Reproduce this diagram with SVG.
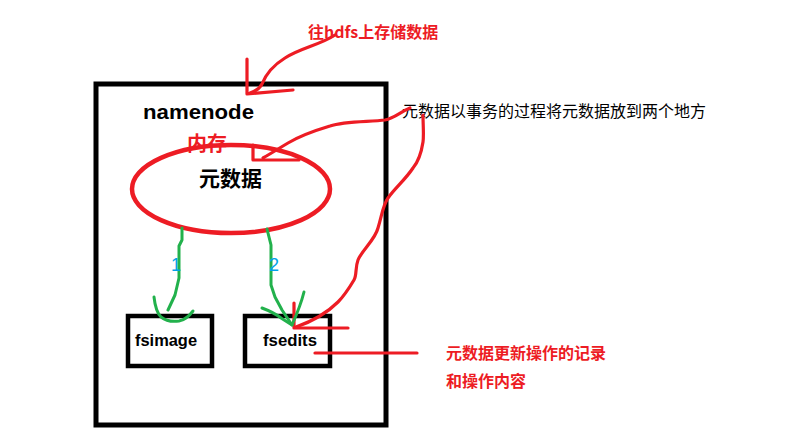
<svg xmlns="http://www.w3.org/2000/svg" width="802" height="446" viewBox="0 0 802 446">
<style>
.box{fill:none;stroke:#000;}
.red{fill:none;stroke:#ed1c24;stroke-width:3.2;stroke-linecap:round;stroke-linejoin:round;}
.green{fill:none;stroke:#22b14c;stroke-width:3;stroke-linecap:round;stroke-linejoin:round;}
.t{font-family:"Liberation Sans","Noto Sans CJK SC",sans-serif;font-weight:bold;}
.cjk{font-family:"Noto Sans CJK SC",sans-serif;}
.num{font-family:"Liberation Sans",sans-serif;font-size:18px;fill:#00a2e8;}
</style>
<rect width="802" height="446" fill="#fff"/>
<g id="namenode">
<rect class="box" x="96" y="84" width="290" height="341" stroke-width="5"/>
<text class="t" x="143" y="119" font-size="21" textLength="111" lengthAdjust="spacingAndGlyphs">namenode</text>
</g>
<g id="memory">
<text class="cjk" x="187" y="151" font-size="20" font-weight="bold" fill="#ed1c24">内存</text>
<ellipse cx="231" cy="189" rx="99" ry="44" fill="none" stroke="#ed1c24" stroke-width="4.5"/>
<text class="cjk" x="199" y="186" font-size="21" font-weight="bold" fill="#000">元数据</text>
</g>
<g id="fsimage">
<rect class="box" x="128" y="316" width="84" height="50" stroke-width="4.5"/>
<text class="t" x="135" y="346" font-size="16" textLength="62" lengthAdjust="spacingAndGlyphs">fsimage</text>
</g>
<g id="fsedits">
<rect class="box" x="245" y="316" width="85" height="50" stroke-width="4.5"/>
<text class="t" x="263" y="346" font-size="16" textLength="54" lengthAdjust="spacingAndGlyphs">fsedits</text>
</g>
<g id="label-hdfs">
<text class="cjk" x="308" y="38" font-size="16" font-weight="bold" fill="#ed1c24">往hdfs上存储数据</text>
</g>
<g id="label-transaction">
<text class="cjk" x="402" y="117" font-size="16" fill="#000">元数据以事务的过程将元数据放到两个地方</text>
</g>
<g id="label-edits">
<text class="cjk" x="446" y="359" font-size="16" font-weight="bold" fill="#ed1c24">元数据更新操作的记录</text>
<text class="cjk" x="446" y="387" font-size="16" font-weight="bold" fill="#ed1c24">和操作内容</text>
</g>
<g id="connectors">
<path class="red" d="M335,35 C320,45 300,48 285,58 C272,66 266,74 262,84 C260,88 256,91 250,93"/>
<path class="red" d="M247,59 L247,94 L293,90"/>
<path class="red" d="M410,108 C400,112 395,118 385,120 C370,122 345,121 330,126 C310,132 298,137 288,143 C278,149 270,154 263,158"/>
<path class="red" d="M253,145 L253,160 L299,160"/>
<path class="red" d="M423,115 C423,125 424,135 423,142 C421,155 418,162 413,168 C405,180 395,188 388,198 C383,205 382,215 378,228 C375,240 362,250 358,260 C355,268 357,275 354,280 C348,290 344,296 338,302 C328,312 316,320 296,327"/>
<path class="red" d="M294,303 L294,328 L348,328"/>
<path class="red" d="M315,353 L417,353" stroke-width="4"/>
<path class="green" d="M182,228 L182,240 L179,246 L179,278 L175,295 L168,310"/>
<path class="green" d="M154,297 C155,306 157,313 161,317 C166,321 172,322 179,321 C185,320 190,315 193,311"/>
<path class="green" d="M267,229 L271,245 L271,285 L275,297 L282,310 L292,325"/>
<path class="green" d="M262,308 C270,311 276,314 281,318 L292,325 C296,316 301,304 304,292"/>
<text class="num" x="171" y="271">1</text>
<text class="num" x="269" y="271">2</text>
</g>
</svg>
